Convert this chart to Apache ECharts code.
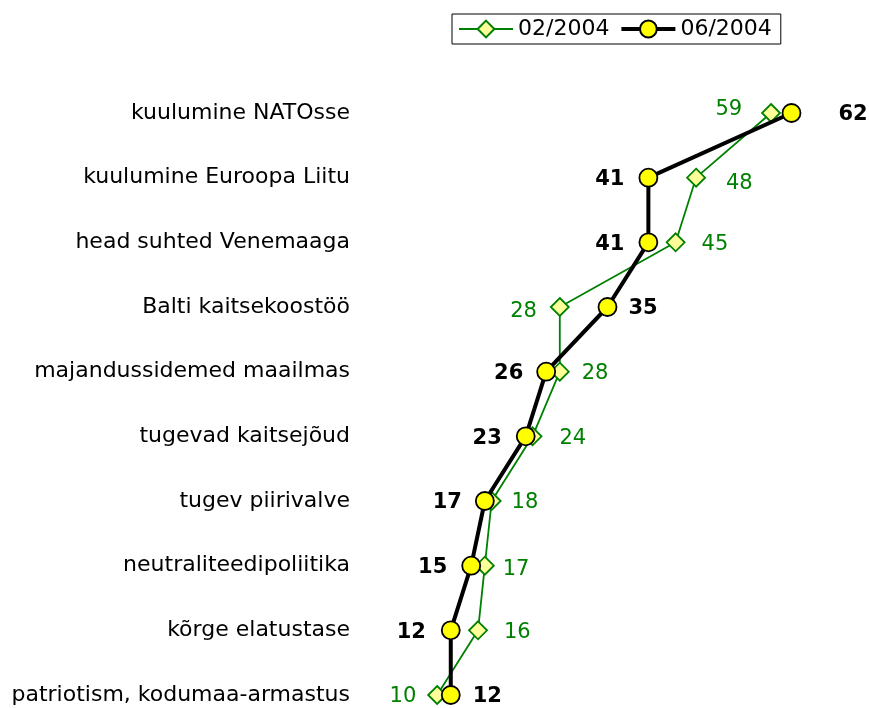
<!DOCTYPE html>
<html>
<head>
<meta charset="utf-8">
<script src="https://cdn.jsdelivr.net/npm/echarts@6/dist/echarts.min.js"></script>
<style>
  html, body { margin: 0; padding: 0; background: #fff; }
  #chart { width: 869px; height: 708px; }
</style>
</head>
<body>
<div id="chart"></div>
<script>
// kategooriad
const categories = [
  'kuulumine NATOsse',
  'kuulumine Euroopa Liitu',
  'head suhted Venemaaga',
  'Balti kaitsekoostöö',
  'majandussidemed maailmas',
  'tugevad kaitsejõud',
  'tugev piirivalve',
  'neutraliteedipoliitika',
  'kõrge elatustase',
  'patriotism, kodumaa-armastus'
]
const seriesNames = ['02/2004', '06/2004']
const feb2004 = [59, 48, 45, 28, 28, 24, 18, 17, 16, 10]
const jun2004 = [62, 41, 41, 35, 26, 23, 17, 15, 12, 12]

// sildi paigutus (pool, kaugus, nihe y)
const febSide = ['left', 'right', 'right', 'left', 'right', 'right', 'right', 'right', 'right', 'left']
const febDist = [19, 20, 16, 13, 12, 17, 10, 8, 16, 11]
const febShift = [-5, 4, 0, 3, 0, 0, 0, 2, 0, 0]
const junSide = ['right', 'left', 'left', 'right', 'left', 'left', 'left', 'left', 'left', 'right']
const junDist = [37, 14, 14, 11, 13, 14, 13, 14, 15, 12]

const GREEN = '#008000'
const FONT = '"DejaVu Sans", Verdana, sans-serif'

function febData() {
  return feb2004.map((v, i) => ({
    value: [v, categories[i]],
    label: { position: febSide[i], distance: febDist[i], offset: [0, febShift[i] + 2] }
  }))
}

function junData() {
  return jun2004.map((v, i) => ({
    value: [v, categories[i]],
    label: { position: junSide[i], distance: junDist[i], offset: [0, 2] }
  }))
}

const chart = echarts.init(document.getElementById('chart'))

const option = {
  animation: false,
  textStyle: { fontFamily: FONT },
  legend: {
    left: 452,
    top: 14,
    padding: [4, 9, 4, 6],
    itemGap: 10,
    itemWidth: 54,
    itemHeight: 21,
    borderColor: '#000',
    borderWidth: 1,
    borderRadius: 0,
    textStyle: { fontSize: 22, color: '#000', fontFamily: FONT },
    data: [
      { name: seriesNames[0] },
      { name: seriesNames[1], lineStyle: { width: 4 } }
    ]
  },
  grid: {
    left: 369,
    right: 23,
    top: 113,
    bottom: 13,
    containLabel: false
  },
  xAxis: {
    type: 'value',
    min: 0,
    max: 70,
    show: false
  },
  yAxis: {
    type: 'category',
    data: categories,
    inverse: true,
    boundaryGap: false,
    axisLine: { show: false },
    axisTick: { show: false },
    splitLine: { show: false },
    axisLabel: {
      fontSize: 22,
      color: '#000',
      margin: 19,
      padding: [5, 0, 0, 0],
      fontFamily: FONT
    }
  },
  series: [
    {
      name: seriesNames[0],
      type: 'line',
      clip: false,
      z: 2,
      data: febData(),
      symbol: 'diamond',
      symbolSize: 18,
      lineStyle: { color: GREEN, width: 1.8 },
      itemStyle: { color: '#ffff99', borderColor: GREEN, borderWidth: 1.8 },
      label: {
        show: true,
        fontSize: 21,
        color: GREEN,
        fontFamily: FONT,
        formatter: p => p.value[0]
      }
    },
    {
      name: seriesNames[1],
      type: 'line',
      clip: false,
      z: 3,
      data: junData(),
      symbol: 'circle',
      symbolSize: 18,
      lineStyle: { color: '#000', width: 4 },
      itemStyle: { color: '#ffff00', borderColor: '#000', borderWidth: 1.8 },
      label: {
        show: true,
        fontSize: 21,
        fontWeight: 'bold',
        color: '#000',
        fontFamily: FONT,
        formatter: p => p.value[0]
      }
    }
  ]
}

chart.setOption(option)
</script>
</body>
</html>
